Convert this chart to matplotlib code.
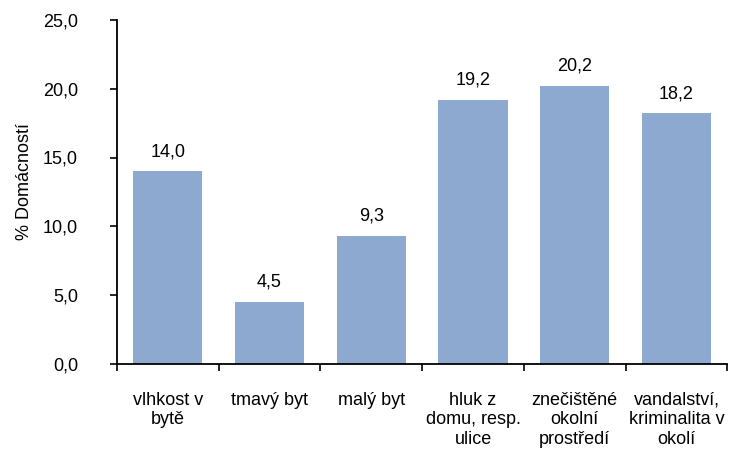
import numpy as np
import matplotlib.pyplot as plt
from matplotlib.ticker import FixedLocator

categories = ["vlhkost v\nbytě", "tmavý byt", "malý byt", "hluk z\ndomu, resp.\nulice",
              "znečištěné\nokolní\nprostředí", "vandalství,\nkriminalita v\nokolí"]
values = [14.0, 4.5, 9.3, 19.2, 20.2, 18.2]
yticks = [0, 5, 10, 15, 20, 25]

plt.rcParams['font.family'] = ['Liberation Sans', 'DejaVu Sans']
fs = 13

fig = plt.figure(figsize=(7.31, 4.5), dpi=100)
ax = fig.add_axes([0.160, 0.191, 0.835, 0.765])

x = np.arange(len(categories))
ax.bar(x, values, width=0.68, color='#8EA9CF')

for xi, v in zip(x, values):
    ax.annotate(f"{v:.1f}".replace('.', ','), (xi, v), xytext=(0, 8),
                textcoords='offset points', ha='center', va='bottom', fontsize=fs)

ax.set_xlim(-0.5, len(categories) - 0.5)
ax.set_ylim(0, 25)
ax.set_yticks(yticks)
ax.set_yticklabels([f"{t:.1f}".replace('.', ',') for t in yticks], fontsize=fs)
ax.set_xticks(x)
ax.set_xticklabels(categories, fontsize=fs, linespacing=1.2, va='top')
ax.tick_params(axis='x', length=0, pad=20)
ax.xaxis.set_minor_locator(FixedLocator(np.arange(-0.5, len(categories), 1.0)))
ax.tick_params(axis='x', which='minor', length=5, width=1.2, direction='out')
ax.tick_params(axis='y', length=5, width=1.2, direction='out', pad=23)

for s in ['top', 'right']:
    ax.spines[s].set_visible(False)
ax.spines['left'].set_linewidth(1.3)
ax.spines['bottom'].set_linewidth(1.3)

ax.set_ylabel("% Domácností", fontsize=fs)
ax.yaxis.set_label_coords(-0.138, 0.53)

fig.savefig('out.png', dpi=100)
